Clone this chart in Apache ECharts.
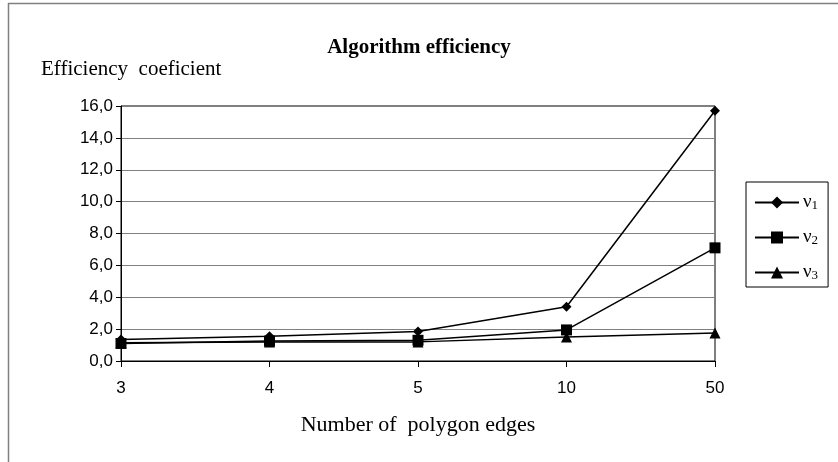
<!DOCTYPE html>
<html>
<head>
<meta charset="utf-8">
<script src="https://cdn.jsdelivr.net/npm/echarts@6/dist/echarts.min.js"></script>
<style>html,body{margin:0;padding:0;background:#fff}#c{width:838px;height:462px}</style>
</head>
<body>
<div id="c"></div>
<script>
const categories = ['3', '4', '5', '10', '50'];
const seriesNames = ['ν{s|1}', 'ν{s|2}', 'ν{s|3}'];
const v1 = [1.35, 1.55, 1.85, 3.4, 15.7];
const v2 = [1.1, 1.25, 1.3, 1.95, 7.1];
const v3 = [1.15, 1.2, 1.2, 1.5, 1.75];
const yTicks = { min: 0, max: 16, interval: 2 };

const serif = 'Liberation Serif, Times New Roman, serif';
const sans = 'Liberation Sans, Arial, sans-serif';
const chart = echarts.init(document.getElementById('c'), null, { renderer: 'canvas' });
const symbols = ['diamond', 'rect', 'triangle'];
const symSizes = [10, 11, 11];
const data = [v1, v2, v3];
chart.setOption({
  animation: false,
  backgroundColor: '#fff',
  title: [
    { text: 'Algorithm efficiency', left: 'center', top: 32,
      textStyle: { fontFamily: serif, fontWeight: 'bold', fontSize: 21, color: '#000' } },
    { text: 'Efficiency  coeficient', left: 36, top: 54,
      textStyle: { fontFamily: serif, fontWeight: 'normal', fontSize: 21, color: '#000' } }
  ],
  grid: { left: 121, right: 123, top: 106, bottom: 101, show: true, borderColor: '#000', borderWidth: 1 },
  legend: {
    orient: 'vertical', left: 746, top: 182,
    data: seriesNames,
    itemWidth: 44, itemHeight: 15, itemGap: 16,
    padding: [11, 10, 5, 8],
    borderColor: '#000', borderWidth: 1,
    textStyle: {
      fontFamily: serif, fontSize: 19, color: '#000', padding: [0, 0, 0, -1],
      rich: { s: { fontFamily: serif, fontSize: 13, color: '#000', verticalAlign: 'bottom', padding: [6, 0, 0, 0] } }
    }
  },
  xAxis: {
    type: 'category', data: categories, boundaryGap: false,
    name: 'Number of  polygon edges', nameLocation: 'middle', nameGap: 53,
    nameTextStyle: { fontFamily: serif, fontSize: 22, color: '#000' },
    axisLine: { lineStyle: { color: '#000', width: 1 } },
    axisTick: { show: true, length: 6, lineStyle: { color: '#000' } },
    axisLabel: { fontFamily: sans, fontSize: 17, color: '#000', margin: 19 },
    splitLine: { show: false }
  },
  yAxis: {
    type: 'value', min: yTicks.min, max: yTicks.max, interval: yTicks.interval,
    axisLine: { show: true, lineStyle: { color: '#000', width: 1 } },
    axisTick: { show: true, length: 5, lineStyle: { color: '#000' } },
    axisLabel: { fontFamily: sans, fontSize: 17, color: '#000', margin: 8,
      formatter: v => v.toFixed(1).replace('.', ',') },
    splitLine: { show: true, lineStyle: { color: '#808080', width: 1 } }
  },
  series: seriesNames.map((n, i) => ({
    name: n, type: 'line', data: data[i],
    symbol: symbols[i], symbolSize: symSizes[i], showAllSymbol: true,
    itemStyle: { color: '#000' },
    lineStyle: { color: '#000', width: 1.5 },
    z: 3 - i
  })),
  graphic: [
    { type: 'line', shape: { x1: 8, y1: 3.5, x2: 838, y2: 3.5 }, style: { stroke: '#808080', lineWidth: 1.5 } },
    { type: 'line', shape: { x1: 8.5, y1: 3, x2: 8.5, y2: 462 }, style: { stroke: '#808080', lineWidth: 1.5 } }
  ]
});
</script>
</body>
</html>
